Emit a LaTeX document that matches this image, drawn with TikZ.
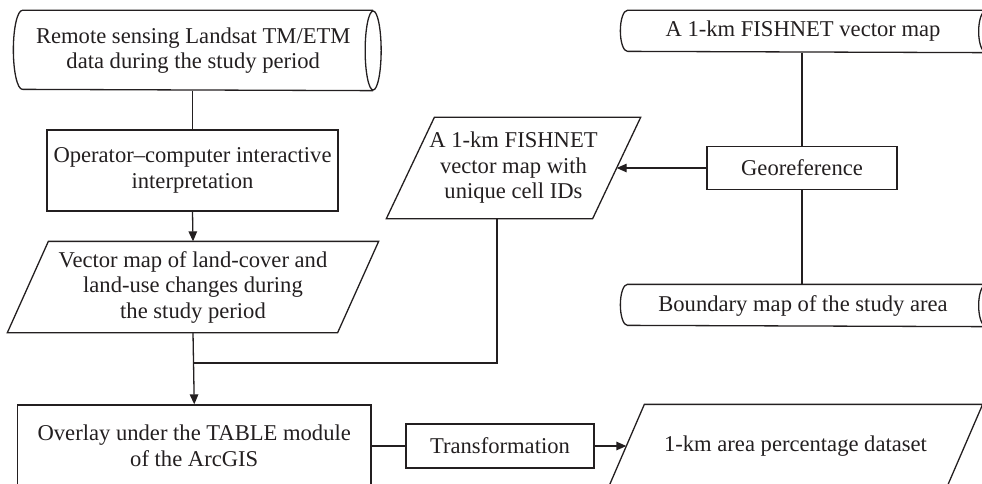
\documentclass[tikz,border=0pt]{standalone}
\usepackage{fontspec}
\setmainfont{Liberation Serif}
\usetikzlibrary{arrows.meta}
\definecolor{ink}{HTML}{231F20}
% outline of a horizontal storage (cylinder-like) node
\newcommand\storeout[4]{%
  \draw[ln] (#1.north east) -- ([xshift=#3]#1.north west)
    arc[start angle=90,end angle=270,x radius=#3,y radius=#2] -- (#1.south east);
  \draw[ln] (#1.east) ellipse[x radius=#4,y radius=#2];}
% outline of a parallelogram node (node width = width at mid height)
\newcommand\paraout[2]{%
  \draw[ln] ([xshift=#2]#1.north west) -- ([xshift=#2]#1.north east)
    -- ([xshift=-#2]#1.south east) -- ([xshift=-#2]#1.south west) -- cycle;}
\begin{document}
\begin{tikzpicture}[x=1pt,y=-1pt,
  ln/.style={draw=ink,line width=1.3pt},
  arr/.style={ln,-{Triangle[length=10pt,width=8.5pt]}},
  box/.style={rectangle,draw=ink,line width=1.3pt,inner sep=0pt,align=center,
    font=\fontsize{22.6}{25.5}\selectfont,text=ink},
  bare/.style={box,draw=none}]
\useasboundingbox (0,0) rectangle (982,484);
\clip (0,0) rectangle (982,484);

% left column
\node[bare,minimum width=358.5pt,minimum height=79pt] (rs) at (193.25,50.5)
  {Remote sensing Landsat TM/ETM\\data during the study period};
\storeout{rs}{39.5pt}{9pt}{8pt}
\node[box,minimum width=291pt,minimum height=81pt] (op) at (192.5,170.5)
  {Operator–computer interactive\\interpretation};
\node[bare,minimum width=329pt,minimum height=90pt] (vm) at (193,287)
  {Vector map of land-cover and\\land-use changes during\\the study period};
\paraout{vm}{20.5pt}

% middle
\node[bare,minimum width=205pt,minimum height=100pt] (fn) at (513.5,168)
  {A 1-km FISHNET\\vector map with\\unique cell IDs};
\paraout{fn}{24pt}

% right column
\node[bare,minimum width=364pt,minimum height=41pt] (fv) at (803,31.5)
  {A 1-km FISHNET vector map};
\storeout{fv}{20.5pt}{7pt}{7pt}
\node[box,minimum width=190pt,minimum height=43pt] (geo) at (802,168)
  {Georeference};
\node[bare,minimum width=364pt,minimum height=41pt] (bm) at (803,305.5)
  {Boundary map of the study area};
\storeout{bm}{20.5pt}{7pt}{7pt}

% bottom row
\node[box,minimum width=353.5pt,minimum height=82pt] (ov) at (194.25,446)
  {Overlay under the TABLE module\\of the ArcGIS};
\node[box,minimum width=188pt,minimum height=44pt] (tr) at (500,446)
  {Transformation};
\node[bare,minimum width=337pt,minimum height=82pt] (ds) at (795.5,446)
  {1-km area percentage dataset};
\paraout{ds}{18pt}

% connectors
\draw[ln] (op.north |- rs.south) -- (op.north);
\draw[arr] (op.south) -- (vm.north);
\coordinate (j) at (193,363);
\draw[arr] (vm.south) -- (ov.north);
\draw[ln] ([xshift=-16.5pt]fn.south) |- (j);
\draw[ln] (geo.north |- fv.south) -- (geo.north);
\draw[ln] (geo.south) -- (geo.south |- bm.north);
\draw[arr] (geo.west) -- (fn.east);
\draw[ln] (ov.east) -- (tr.west);
\draw[arr] (tr.east) -- (ds.west);
\end{tikzpicture}
\end{document}
